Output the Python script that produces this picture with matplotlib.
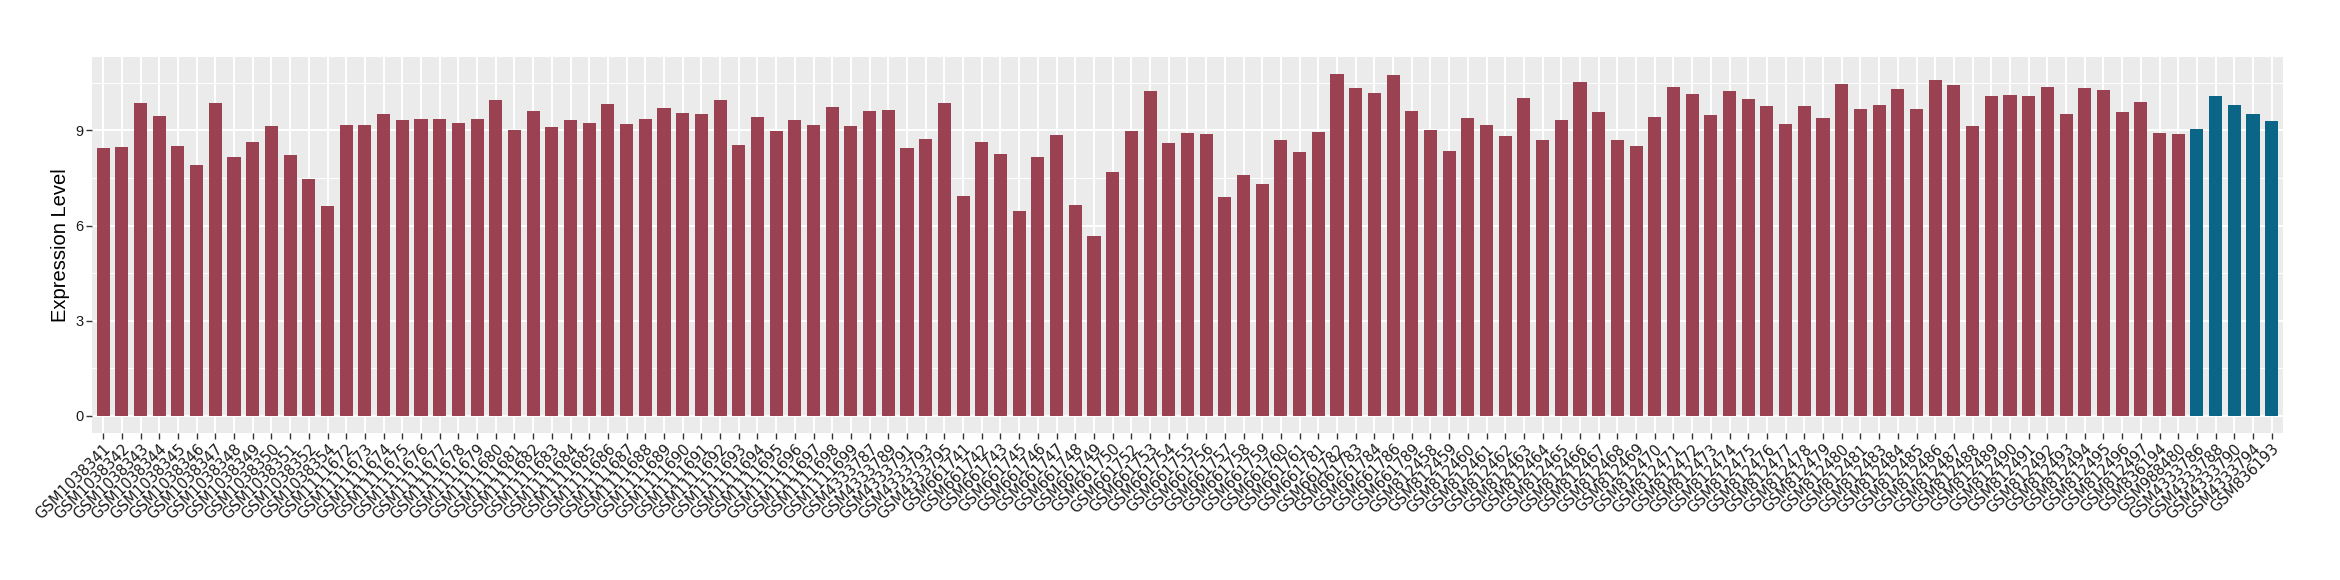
import numpy as np
import matplotlib
matplotlib.use('Agg')
from matplotlib import pyplot as plt

# samples and expression values
samples = ['GSM1038341', 'GSM1038342', 'GSM1038343', 'GSM1038344', 'GSM1038345', 'GSM1038346',
           'GSM1038347', 'GSM1038348', 'GSM1038349', 'GSM1038350', 'GSM1038351', 'GSM1038352',
           'GSM1038354', 'GSM1111672', 'GSM1111673', 'GSM1111674', 'GSM1111675', 'GSM1111676',
           'GSM1111677', 'GSM1111678', 'GSM1111679', 'GSM1111680', 'GSM1111681', 'GSM1111682',
           'GSM1111683', 'GSM1111684', 'GSM1111685', 'GSM1111686', 'GSM1111687', 'GSM1111688',
           'GSM1111689', 'GSM1111690', 'GSM1111691', 'GSM1111692', 'GSM1111693', 'GSM1111694',
           'GSM1111695', 'GSM1111696', 'GSM1111697', 'GSM1111698', 'GSM1111699', 'GSM4333787',
           'GSM4333789', 'GSM4333791', 'GSM4333793', 'GSM4333795', 'GSM661741', 'GSM661742',
           'GSM661743', 'GSM661745', 'GSM661746', 'GSM661747', 'GSM661748', 'GSM661749',
           'GSM661750', 'GSM661752', 'GSM661753', 'GSM661754', 'GSM661755', 'GSM661756',
           'GSM661757', 'GSM661758', 'GSM661759', 'GSM661760', 'GSM661761', 'GSM661781',
           'GSM661782', 'GSM661783', 'GSM661784', 'GSM661786', 'GSM661789', 'GSM812458',
           'GSM812459', 'GSM812460', 'GSM812461', 'GSM812462', 'GSM812463', 'GSM812464',
           'GSM812465', 'GSM812466', 'GSM812467', 'GSM812468', 'GSM812469', 'GSM812470',
           'GSM812471', 'GSM812472', 'GSM812473', 'GSM812474', 'GSM812475', 'GSM812476',
           'GSM812477', 'GSM812478', 'GSM812479', 'GSM812480', 'GSM812481', 'GSM812483',
           'GSM812484', 'GSM812485', 'GSM812486', 'GSM812487', 'GSM812488', 'GSM812489',
           'GSM812490', 'GSM812491', 'GSM812492', 'GSM812493', 'GSM812494', 'GSM812495',
           'GSM812496', 'GSM812497', 'GSM836194', 'GSM988480', 'GSM4333786', 'GSM4333788',
           'GSM4333790', 'GSM4333794', 'GSM836193']

values = [8.45, 8.48, 9.86, 9.45, 8.51, 7.91, 9.86, 8.16, 8.63, 9.14, 8.22, 7.47,
          6.62, 9.17, 9.17, 9.52, 9.33, 9.36, 9.36, 9.23, 9.36, 9.96, 9.01, 9.61,
          9.11, 9.33, 9.23, 9.83, 9.20, 9.36, 9.71, 9.55, 9.52, 9.96, 8.54, 9.42,
          8.98, 9.33, 9.17, 9.74, 9.14, 9.61, 9.64, 8.45, 8.73, 9.86, 6.93, 8.63,
          8.26, 6.46, 8.16, 8.86, 6.65, 5.67, 7.69, 8.98, 10.24, 8.60, 8.92, 8.89,
          6.90, 7.59, 7.31, 8.70, 8.32, 8.95, 10.78, 10.34, 10.18, 10.75, 9.61, 9.01,
          8.35, 9.39, 9.17, 8.82, 10.02, 8.70, 9.33, 10.53, 9.58, 8.70, 8.51, 9.42,
          10.37, 10.15, 9.49, 10.24, 9.99, 9.77, 9.20, 9.77, 9.39, 10.46, 9.67, 9.80,
          10.30, 9.67, 10.59, 10.43, 9.14, 10.08, 10.12, 10.08, 10.37, 9.52, 10.34, 10.27,
          9.58, 9.89, 8.92, 8.89, 9.04, 10.08, 9.80, 9.52, 9.30]

# last five samples are the second group
group = ['a'] * 112 + ['b'] * 5
colors = {'a': '#9A4251', 'b': '#0B6586'}

fig = plt.figure(figsize=(23.4, 5.8), dpi=100)
ax = fig.add_axes([0.0393, 0.2534, 0.9363, 0.6486])

x = np.arange(len(samples))
ax.bar(x, values, width=0.7, color=[colors[g] for g in group], zorder=3)

ax.set_facecolor('#EBEBEB')
ymax = max(values)
ax.set_ylim(-0.05 * ymax, 1.05 * ymax)
ax.set_xlim(-0.6, len(samples) - 0.4)

ax.set_yticks([0, 3, 6, 9])
ax.set_yticks([1.5, 4.5, 7.5, 10.5], minor=True)
ax.set_xticks(x)
ax.set_xticklabels(samples, rotation=45, ha='right', va='top', rotation_mode='anchor',
                   fontsize=10.6, family='DejaVu Sans', color='#1A1A1A')
for lbl in ax.get_yticklabels():
    lbl.set_family('Liberation Sans')
    lbl.set_fontsize(10.5)
    lbl.set_color('#1A1A1A')

ax.grid(which='major', color='white', linewidth=1.4, zorder=0)
ax.grid(which='minor', axis='y', color='white', linewidth=0.7, zorder=0)
ax.tick_params(axis='both', which='major', length=4, width=1, color='#333333', pad=2)
ax.tick_params(axis='y', which='minor', length=0)
for s in ax.spines.values():
    s.set_visible(False)

ax.set_ylabel('Expression Level', fontsize=14.5, family='Liberation Sans', labelpad=4)

fig.savefig('out.png', dpi=100)
